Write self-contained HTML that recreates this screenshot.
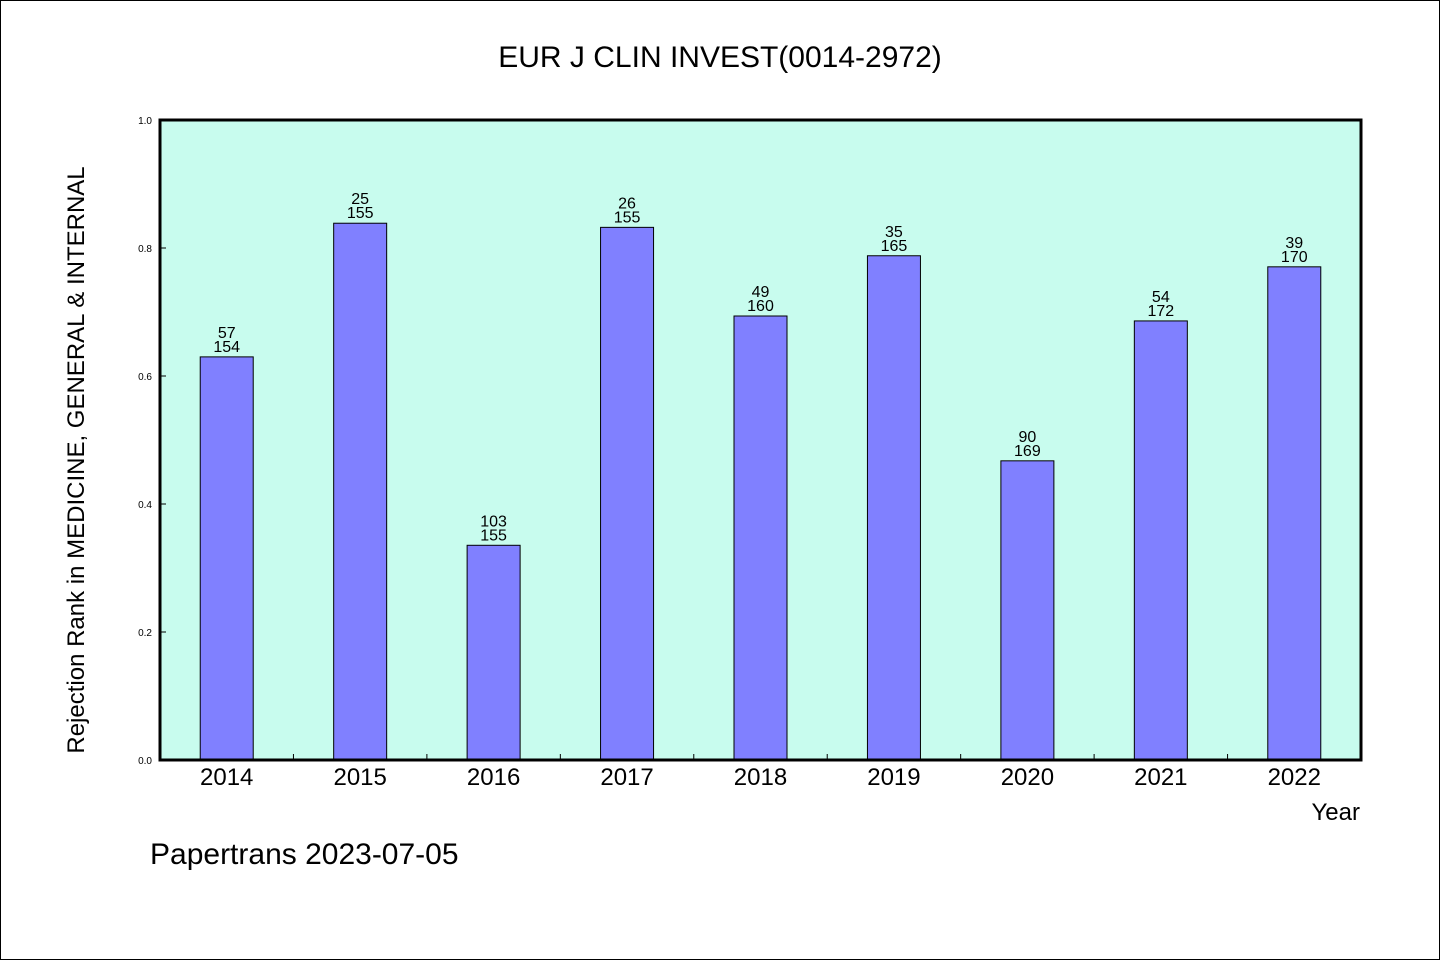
<!DOCTYPE html>
<html><head><meta charset="utf-8"><style>
body{margin:0;background:#fff}
svg{display:block}
text{font-family:"WenQuanYi Zen Hei","Liberation Sans",sans-serif;fill:#000}
</style></head><body>
<svg width="1440" height="960">
<rect x="0.5" y="0.5" width="1439" height="959" fill="#fff" stroke="#000"/>
<text x="720" y="67" font-size="30" text-anchor="middle">EUR J CLIN INVEST(0014-2972)</text>
<rect x="160" y="120" width="1201" height="640" fill="#c8fcee"/>
<g id="ticks"></g>
<g id="bars"></g>
<rect x="160" y="120" width="1201" height="640" fill="none" stroke="#000" stroke-width="3"/>
<text transform="translate(84,460) rotate(-90)" font-size="24" text-anchor="middle">Rejection Rank in MEDICINE, GENERAL &amp; INTERNAL</text>
<text x="1360" y="820" font-size="24" text-anchor="end">Year</text>
<text x="150" y="864" font-size="30">Papertrans 2023-07-05</text>
</svg>
<script>
const years=["2014","2015","2016","2017","2018","2019","2020","2021","2022"];
const ranks=[57,25,103,26,49,35,90,54,39];
const totals=[154,155,155,155,160,165,169,172,170];
const yTicks=[0,0.2,0.4,0.6,0.8,1.0];
const tickLabels=["0.0","0.2","0.4","0.6","0.8","1.0"];
const X0=160,W=1201,Y0=760,H=640;
const band=W/years.length;
const y=v=>Y0-v*H;
const xc=i=>X0+band*(i+0.5);
const NS="http://www.w3.org/2000/svg";
const tg=document.getElementById('ticks'),bg=document.getElementById('bars');
function mk(tag,a,p){const e=document.createElementNS(NS,tag);for(const k in a)e.setAttribute(k,a[k]);p.appendChild(e);return e;}
yTicks.forEach((v,i)=>{
 const l=mk('line',{x1:X0,x2:X0+6,y1:y(v),y2:y(v),stroke:'#000'},tg);
 
 
 const t=mk('text',{x:152,y:y(v)+4,'font-size':10,'text-anchor':'end'},tg);
 t.textContent=tickLabels[i];
 
 
});
for(let i=1;i<years.length;i++){
 const l=mk('line',{x1:X0+band*i,x2:X0+band*i,y1:Y0,y2:Y0-6,stroke:'#000'},tg);
 
 
}
years.forEach((yr,i)=>{
 const v=(totals[i]-ranks[i])/totals[i];
 const r=mk('rect',{x:xc(i)-26.5,y:y(v),width:53,height:Y0-y(v),fill:'#8080ff',stroke:'#000','stroke-width':1},bg);
 
 
 const t1=mk('text',{x:xc(i),y:y(v)-19,'font-size':16,'text-anchor':'middle'},bg);
 t1.textContent=ranks[i];
 
 
 const t2=mk('text',{x:xc(i),y:y(v)-5,'font-size':16,'text-anchor':'middle'},bg);
 t2.textContent=totals[i];
 
 
 const xl=mk('text',{x:xc(i),y:785,'font-size':24,'text-anchor':'middle'},bg);
 xl.textContent=yr;
 
 
});
</script>
</body></html>
